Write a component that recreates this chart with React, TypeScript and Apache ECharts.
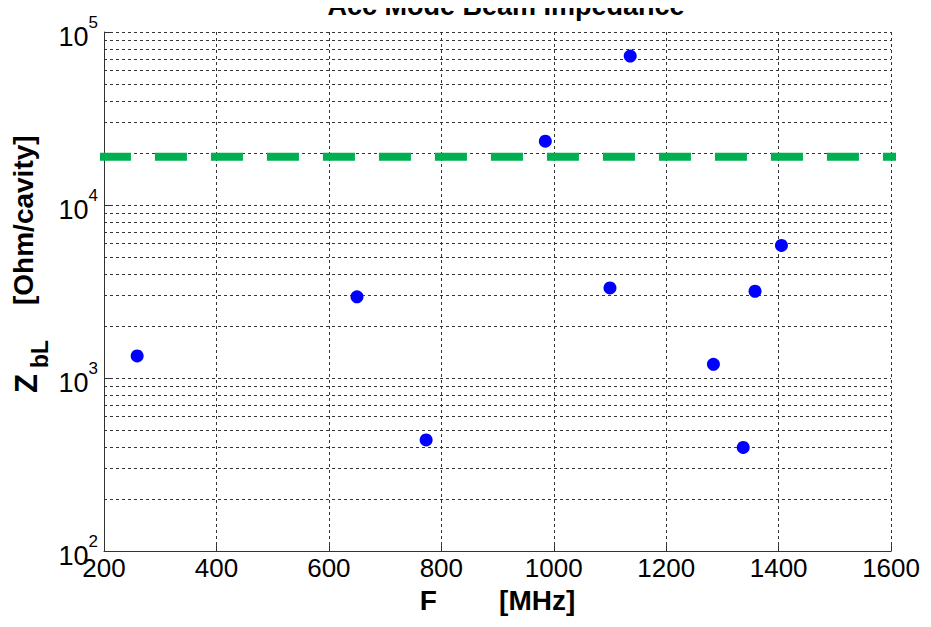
import React, { useEffect, useRef } from "react";
import * as echarts from "echarts";

// Data
const freqMHz = [259, 650, 773, 985, 1100, 1136, 1284, 1337, 1358, 1405];
const impedance = [1343, 2950, 439, 23400, 3320, 72600, 1200, 397, 3175, 5840];
const thresholdValue = 19000;
const thresholdRange = [191, 1630];
const xTicks = [200, 400, 600, 800, 1000, 1200, 1400, 1600];
const yDecades = [100, 1000, 10000, 100000];
const minorMultipliers = [2, 3, 4, 5, 6, 7, 8, 9];

const FONT = "'Liberation Sans', Arial, Helvetica, sans-serif";

export default function App() {
  const ref = useRef<HTMLDivElement>(null);

  useEffect(() => {
    if (!ref.current) return;
    const chart = echarts.init(ref.current, undefined, { renderer: "svg" });

    const minorValues: number[] = [];
    for (let i = 0; i < yDecades.length - 1; i++) {
      for (const m of minorMultipliers) minorValues.push(yDecades[i] * m);
    }

    const gridStyle = { color: "#333", width: 1, type: [3, 3] as number[] };
    const labelText = (text: string, x: number, y: number, size: number) => ({
      type: "text",
      x,
      y,
      rotation: Math.PI / 2,
      style: {
        text,
        align: "left",
        verticalAlign: "middle",
        fontFamily: FONT,
        fontSize: size,
        fontWeight: "bold",
        fill: "#000",
      },
    });

    chart.setOption({
      animation: false,
      backgroundColor: "#fff",
      title: {
        text: "Acc Mode Beam Impedance",
        left: 493,
        textAlign: "center",
        top: -21,
        textStyle: { fontFamily: FONT, fontSize: 27, fontWeight: "bold", color: "#000" },
      },
      grid: { left: 96, top: 24, width: 794, height: 532, containLabel: false },
      xAxis: {
        type: "value",
        min: xTicks[0],
        max: xTicks[xTicks.length - 1],
        interval: 200,
        name: "F        [MHz]",
        nameLocation: "middle",
        nameGap: 34,
        nameTextStyle: { fontFamily: FONT, fontSize: 28, fontWeight: "bold", color: "#000" },
        axisLine: { show: true, lineStyle: { color: "#333", width: 1 } },
        axisTick: { show: true, inside: true, length: 6, lineStyle: { color: "#333" } },
        axisLabel: {
          fontFamily: FONT,
          fontSize: 26,
          color: "#000",
          margin: 4,
          formatter: (v: number) => String(v),
        },
        splitLine: { show: true, lineStyle: gridStyle },
      },
      yAxis: {
        type: "log",
        logBase: 10,
        min: yDecades[0],
        max: yDecades[yDecades.length - 1],
        axisLine: { show: true, lineStyle: { color: "#333", width: 1 } },
        axisTick: { show: true, inside: true, length: 6, lineStyle: { color: "#333" } },
        axisLabel: {
          margin: 6,
          formatter: (v: number) => `{b|10}{s|${Math.round(Math.log10(v))}}`,
          rich: {
            b: { fontFamily: FONT, fontSize: 27, color: "#000", verticalAlign: "bottom", lineHeight: 36 },
            s: { fontFamily: FONT, fontSize: 17, color: "#000", verticalAlign: "top", lineHeight: 36 },
          },
        },
        splitLine: { show: true, lineStyle: gridStyle },
      },
      graphic: [
        labelText("Z", 18, 385, 31),
        labelText("bL", 32, 360, 23),
        labelText("[Ohm/cavity]", 15, 297, 28),
      ],
      series: [
        {
          type: "line",
          data: thresholdRange.map((x) => [x, thresholdValue]),
          symbol: "none",
          clip: false,
          silent: true,
          lineStyle: { color: "#00b050", width: 8, type: [32, 24], cap: "butt" },
          z: 3,
          markLine: {
            silent: true,
            symbol: "none",
            label: { show: false },
            lineStyle: gridStyle,
            data: minorValues.map((v) => ({ yAxis: v })),
            z: 1,
          },
        },
        {
          type: "scatter",
          data: freqMHz.map((x, i) => [x, impedance[i]]),
          symbol: "circle",
          symbolSize: 13,
          itemStyle: { color: "#0000ff", opacity: 1 },
          z: 4,
        },
      ],
    });

    return () => chart.dispose();
  }, []);

  return <div ref={ref} style={{ width: 915, height: 611 }} />;
}
